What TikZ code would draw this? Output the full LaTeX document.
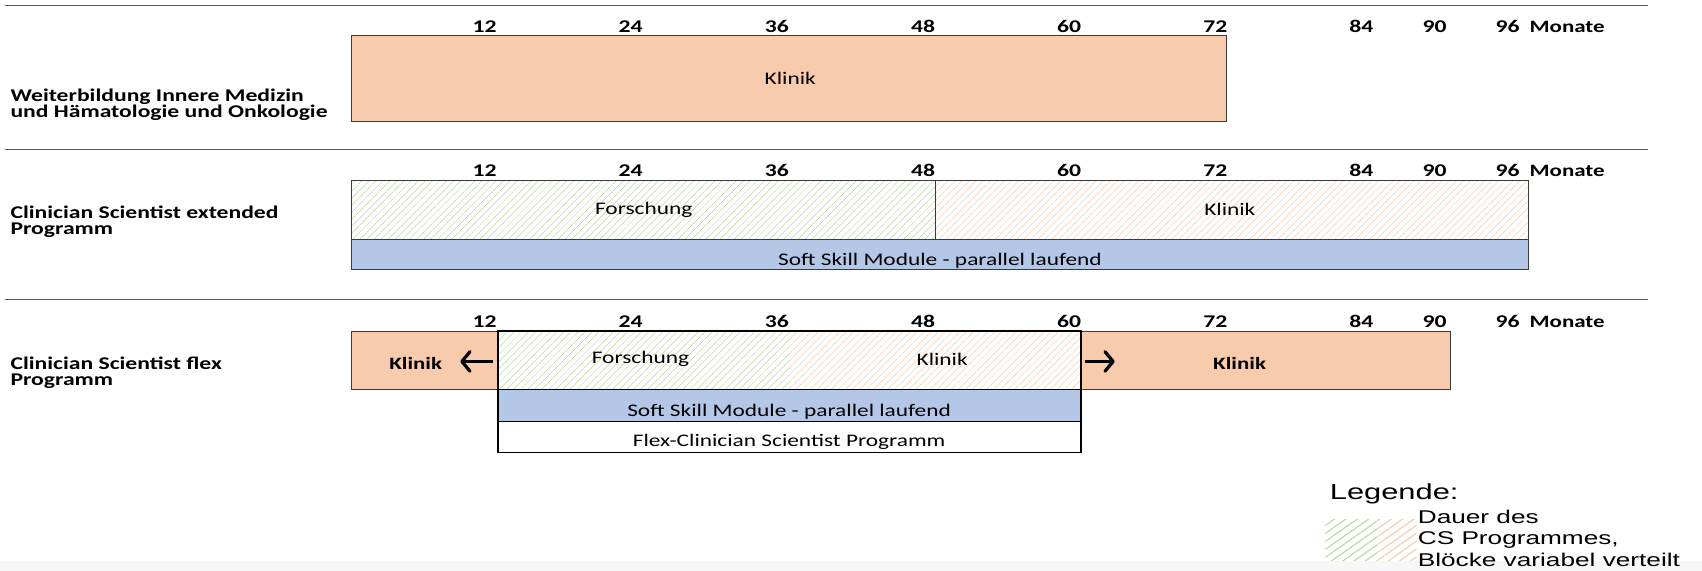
\documentclass[tikz,border=0pt]{standalone}
\usepackage{fontspec}
\usetikzlibrary{patterns.meta,arrows.meta}
\newfontfamily\calf[FakeStretch=1.32]{Carlito}
\newfontfamily\arf[FakeStretch=1.42]{Liberation Sans}
\definecolor{orfill}{HTML}{F8CBAD}
\definecolor{blfill}{HTML}{B4C7E7}
\definecolor{hgreen}{HTML}{B5D99C}
\definecolor{horange}{HTML}{F8CBAD}
\definecolor{edgec}{HTML}{3A3A3A}
\definecolor{sepc}{HTML}{5A5A5A}
\begin{document}
\begin{tikzpicture}[x=1pt,y=-1pt,
  lbl/.style={font=\calf\bfseries\fontsize{16.5}{16.5}\selectfont, anchor=base west, inner sep=0pt},
  tick/.style={font=\calf\bfseries\fontsize{16.5}{16.5}\selectfont, anchor=base east, inner sep=0pt},
  mon/.style={font=\calf\bfseries\fontsize{16}{16}\selectfont, anchor=base west, inner sep=0pt},
  txt/.style={font=\calf\fontsize{16.3}{16.3}\selectfont, inner sep=0pt},
  btxt/.style={font=\calf\bfseries\fontsize{16}{16}\selectfont, inner sep=0pt},
  sep/.style={draw=sepc, line width=1.2pt},
  obox/.style={fill=orfill, draw=edgec, line width=0.8pt},
  bbox/.style={fill=blfill, draw=edgec, line width=0.8pt},
  ghatch/.style={pattern={Lines[angle=45,distance=4.6pt,line width=0.45pt]}, pattern color=hgreen},
  ohatch/.style={pattern={Lines[angle=45,distance=4.6pt,line width=0.45pt]}, pattern color=horange},
  lghatch/.style={pattern={Lines[angle=35,distance=6pt,line width=1pt]}, pattern color=hgreen},
  lohatch/.style={pattern={Lines[angle=35,distance=6pt,line width=1pt]}, pattern color=horange},
  arr/.style={line width=3.3pt, -{Straight Barb[length=7.5pt,width=18pt,line width=3pt,round]}},
  legh/.style={font=\arf\fontsize{20}{20}\selectfont, anchor=base west, inner sep=0pt},
  legt/.style={font=\arf\fontsize{17}{17}\selectfont, anchor=base west, inner sep=0pt}
]
\useasboundingbox (0,0) rectangle (1568,526);
\fill[white] (0,0) rectangle (1568,526);
\fill[gray!6] (0,517) rectangle (1568,526);

% separators
\draw[sep] (5,5) -- (1518,5);
\draw[sep] (5,138) -- (1518,138);
\draw[sep] (5,276) -- (1518,276);

% tick labels
\foreach \r/\b in {1/29.5,2/162.5,3/301.5}{
  \foreach \m in {12,24,36,48,60,72,84,90,96}{
    \node[tick] (t\r m\m) at ({324+11.22*\m-1},\b) {\m};
  }
}
\node[mon] (mon1) at (1409,29.5) {Monate};
\node[mon] (mon2) at (1409,162.5) {Monate};
\node[mon] (mon3) at (1409,301.5) {Monate};

% row labels
\node[lbl] (l1a) at (9.5,93.5) {Weiterbildung Innere Medizin};
\node[lbl] (l1b) at (9.5,108.5) {und Hämatologie und Onkologie};
\node[lbl] (l2a) at (9.5,201.5) {Clinician Scientist extended};
\node[lbl] (l2b) at (9.5,216.5) {Programm};
\node[lbl] (l3a) at (9.5,340.5) {Clinician Scientist flex};
\node[lbl] (l3b) at (9.5,355.5) {Programm};

% row 1
\draw[obox] (324,33) rectangle (1130,112);
\node[txt] (k1) at (728,72) {Klinik};

% row 2
\fill[ghatch] (324,166) rectangle (862,221);
\fill[ohatch] (862,166) rectangle (1408,221);
\draw[edgec, line width=0.8pt] (324,166) rectangle (1408,221);
\draw[edgec, line width=0.8pt] (862,166) -- (862,221);
\node[txt] (f2) at (593,193) {Forschung};
\node[txt] (k2) at (1133,193) {Klinik};
\draw[bbox] (324,221) rectangle (1408,248);
\node[txt] (s2) at (866,240) {Soft Skill Module - parallel laufend};

% row 3
\draw[obox] (324,305) rectangle (459,359);
\draw[obox] (996,305) rectangle (1336,359);
\fill[ghatch] (459,305) rectangle (727,359);
\fill[ohatch] (727,305) rectangle (996,359);
\fill[blfill] (459,359) rectangle (996,388);
\draw[black, line width=1.4pt] (459,305) rectangle (996,417);
\draw[black, line width=0.9pt] (459,359) -- (996,359);
\draw[black, line width=0.9pt] (459,388) -- (996,388);
\node[btxt] (k3a) at (383,335) {Klinik};
\node[txt] (f3) at (590,331) {Forschung};
\node[txt] (k3b) at (868,331) {Klinik};
\node[btxt] (k3c) at (1142,335) {Klinik};
\node[txt] (s3) at (727,379) {Soft Skill Module - parallel laufend};
\node[txt] (fx3) at (727,407) {Flex-Clinician Scientist Programm};
\coordinate (a1s) at (454,333);
\coordinate (a1e) at (424,333);
\coordinate (a2s) at (1000,333);
\coordinate (a2e) at (1027,333);
\draw[arr] (a1s) -- (a1e);
\draw[arr] (a2s) -- (a2e);

% legend
\node[legh] (lg) at (1225,460) {Legende:};
\fill[lghatch] (1221,479) rectangle (1269,516);
\fill[lohatch] (1269,479) rectangle (1305,516);
\node[legt] (lg1) at (1306,482) {Dauer des};
\node[legt] (lg2) at (1306,502) {CS Programmes,};
\node[legt] (lg3) at (1306,521.5) {Blöcke variabel verteilt};
\end{tikzpicture}
\end{document}
